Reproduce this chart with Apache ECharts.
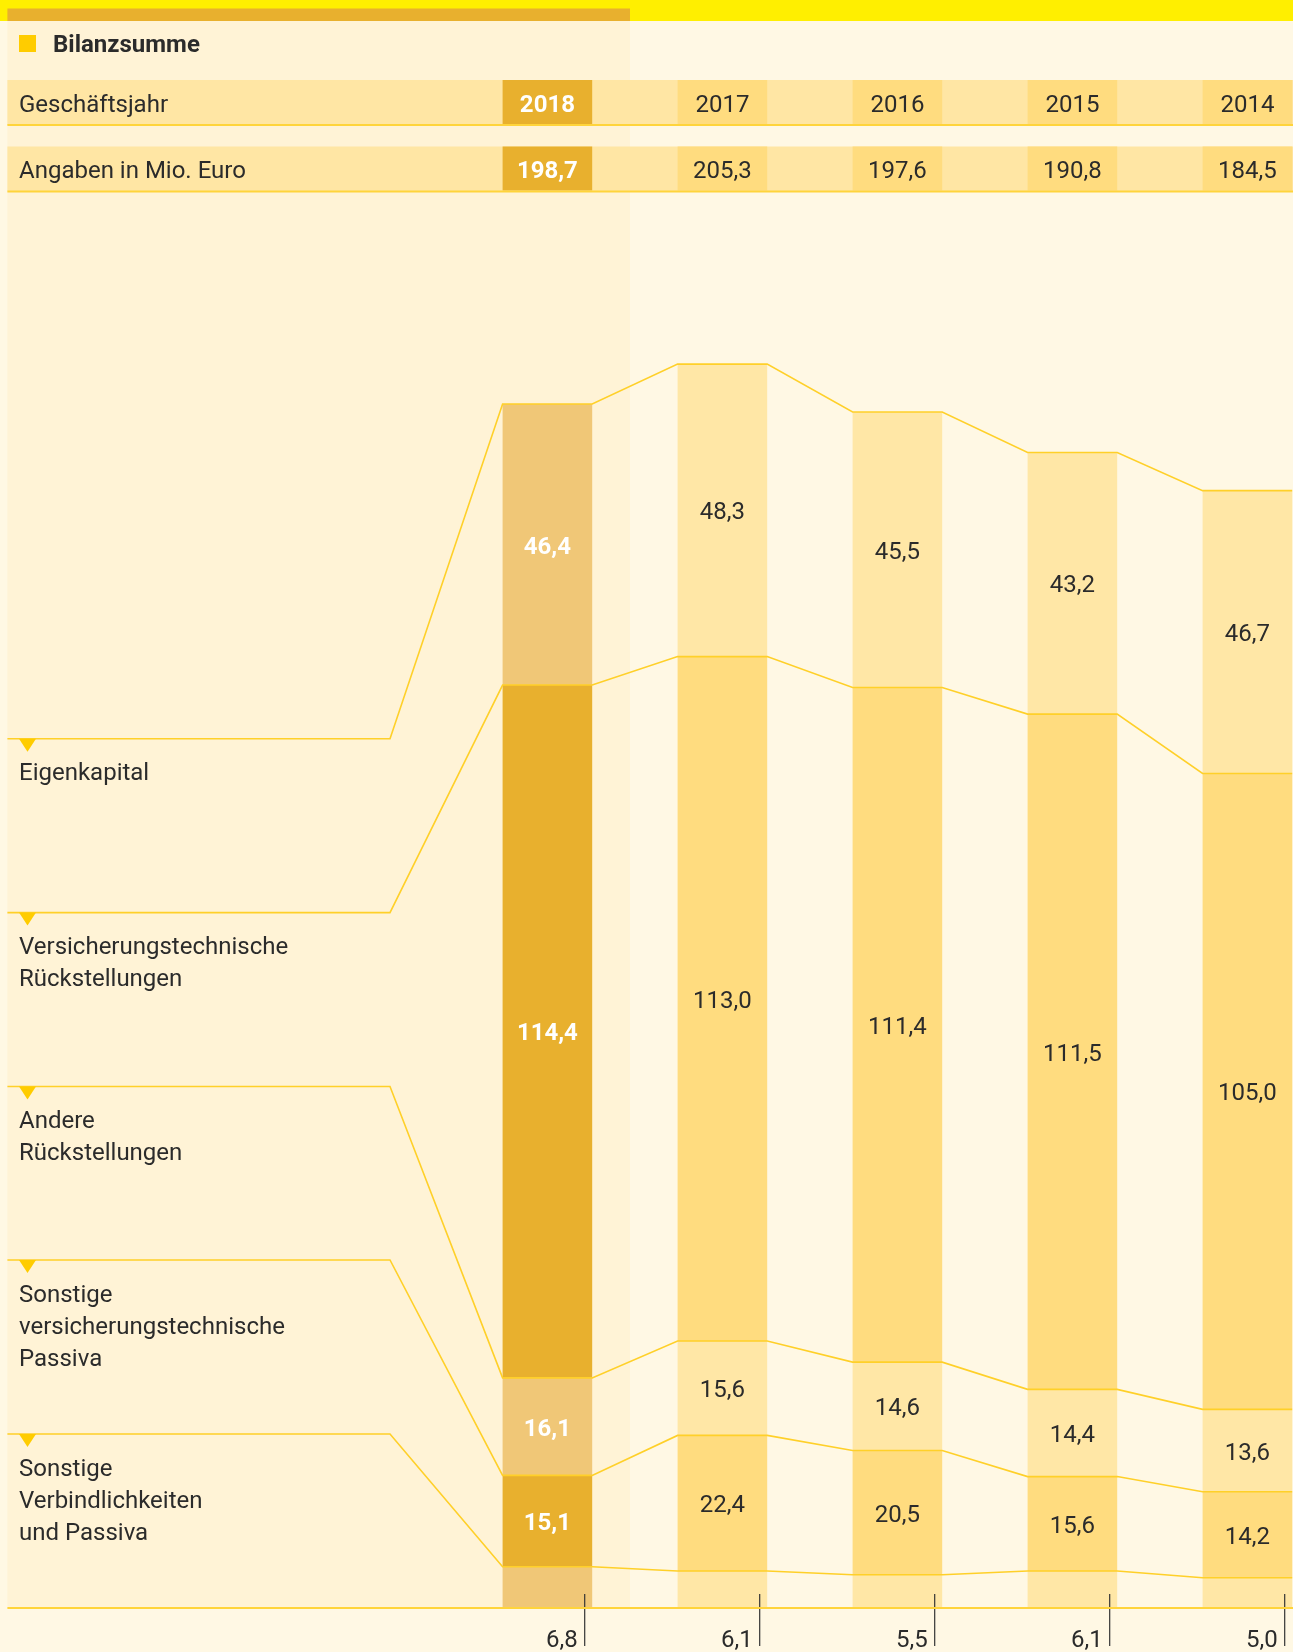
<!DOCTYPE html>
<html>
<head>
<meta charset="utf-8">
<title>Bilanzsumme</title>
<script src="https://cdn.jsdelivr.net/npm/echarts@6/dist/echarts.min.js"></script>
<style>
html, body { margin: 0; padding: 0; background: #FFF8E4; }
#chart { width: 1293px; height: 1652px; }
</style>
</head>
<body>
<div id="chart"></div>
<script>
var years = ['2018', '2017', '2016', '2015', '2014'];
var totals = [198.7, 205.3, 197.6, 190.8, 184.5];

// Schichten von unten nach oben (Angaben in Mio. Euro)
var sonstigeVerbindlichkeiten = [6.8, 6.1, 5.5, 6.1, 5.0];
var sonstigeVersPassiva = [15.1, 22.4, 20.5, 15.6, 14.2];
var andereRueckstellungen = [16.1, 15.6, 14.6, 14.4, 13.6];
var versRueckstellungen = [114.4, 113.0, 111.4, 111.5, 105.0];
var eigenkapital = [46.4, 48.3, 45.5, 43.2, 46.7];

var layers = [sonstigeVerbindlichkeiten, sonstigeVersPassiva, andereRueckstellungen, versRueckstellungen, eigenkapital];
var layerNames = [
  'Sonstige\nVerbindlichkeiten\nund Passiva',
  'Sonstige\nversicherungstechnische\nPassiva',
  'Andere\nRückstellungen',
  'Versicherungstechnische\nRückstellungen',
  'Eigenkapital'
];

var FONT = 'Roboto, "Open Sans", sans-serif';
var FS = 24;
var DARK = '#2B2B2B';
var LINE = '#FFD029';
var BAR_RATIO = 0.512;
var BASE_Y = 1608;
// y der Beschriftungslinie je Schicht (unterste zuerst)
var labelLineY = [1434, 1260, 1086.5, 912.6, 738.7];

function fmt(v) { return v.toFixed(1).replace('.', ','); }

// kumulierte Unter-/Obergrenzen
var segData = [];
var tops = [];
for (var k = 0; k < layers.length; k++) tops.push([]);
for (var i = 0; i < years.length; i++) {
  var acc = 0;
  for (var k = 0; k < layers.length; k++) {
    var v = layers[k][i];
    segData.push([i, acc, acc + v, k, v]);
    acc += v;
    tops[k].push(acc);
  }
}

function colorFor(i, k) {
  if (i === 0) return k % 2 ? '#E8B02E' : '#F0C777';
  return k % 2 ? '#FFDC7F' : '#FFE7A6';
}

function renderSegment(params, api) {
  var i = api.value(0), s = api.value(1), e = api.value(2), k = api.value(3), v = api.value(4);
  var p0 = api.coord([i, s]);
  var p1 = api.coord([i, e]);
  var w = api.size([1, 0])[0] * BAR_RATIO;
  var children = [{
    type: 'rect',
    shape: { x: p0[0] - w / 2, y: p1[1], width: w, height: p0[1] - p1[1] },
    style: { fill: colorFor(i, k) }
  }];
  if (k === 0) {
    var tx = p0[0] + w / 2 - 7.5;
    children.push({
      type: 'line',
      shape: { x1: tx, y1: BASE_Y - 14, x2: tx, y2: BASE_Y + 38 },
      style: { stroke: '#333', lineWidth: 1.2 }
    });
    children.push({
      type: 'text', x: tx - 7, y: BASE_Y + 33,
      style: { text: fmt(v), fill: DARK, fontSize: FS, fontFamily: FONT, align: 'right', verticalAlign: 'middle' }
    });
  } else {
    children.push({
      type: 'text', x: p0[0], y: (p0[1] + p1[1]) / 2 + 3,
      style: {
        text: fmt(v), fill: i === 0 ? '#fff' : DARK, fontSize: FS, fontFamily: FONT,
        fontWeight: i === 0 ? 'bold' : 'normal', align: 'center', verticalAlign: 'middle'
      }
    });
  }
  return { type: 'group', children: children };
}

function renderConnector(params, api) {
  var k = params.dataIndex;
  var w = api.size([1, 0])[0] * BAR_RATIO;
  var pts = [[7.4, labelLineY[k]], [390, labelLineY[k]]];
  for (var i = 0; i < years.length; i++) {
    var p = api.coord([i, tops[k][i]]);
    pts.push([p[0] - w / 2, p[1]]);
    pts.push([p[0] + w / 2, p[1]]);
  }
  return {
    type: 'polyline',
    shape: { points: pts },
    style: { stroke: LINE, lineWidth: 1.6, fill: null }
  };
}

function renderHeader(params, api) {
  var i = params.dataIndex;
  var p = api.coord([i, 0]);
  var w = api.size([1, 0])[0] * BAR_RATIO;
  var fill = i === 0 ? '#E8B02E' : '#FFDC7F';
  var txt = i === 0 ? '#fff' : DARK;
  var fw = i === 0 ? 'bold' : 'normal';
  return {
    type: 'group',
    children: [
      { type: 'rect', shape: { x: p[0] - w / 2, y: 80, width: w, height: 44 }, style: { fill: fill } },
      { type: 'rect', shape: { x: p[0] - w / 2, y: 146.5, width: w, height: 44 }, style: { fill: fill } },
      { type: 'text', x: p[0], y: 105.5, style: { text: years[i], fill: txt, fontSize: FS, fontWeight: fw, fontFamily: FONT, align: 'center', verticalAlign: 'middle' } },
      { type: 'text', x: p[0], y: 172, style: { text: fmt(totals[i]), fill: txt, fontSize: FS, fontWeight: fw, fontFamily: FONT, align: 'center', verticalAlign: 'middle' } }
    ]
  };
}

var graphics = [
  { type: 'rect', shape: { x: 7.4, y: 8, width: 622.6, height: 1600 }, style: { fill: '#FFF3D6' }, z: -10 },
  { type: 'rect', shape: { x: 0, y: 0, width: 1293, height: 21 }, style: { fill: '#FFEF00' }, z: -9 },
  { type: 'rect', shape: { x: 7.4, y: 8.4, width: 622.6, height: 12.6 }, style: { fill: '#E8B02E' }, z: -8 },
  { type: 'rect', shape: { x: 19, y: 35, width: 17, height: 17 }, style: { fill: '#FFCC00' } },
  { type: 'text', x: 53, y: 46, style: { text: 'Bilanzsumme', fill: DARK, fontSize: FS, fontWeight: 'bold', fontFamily: FONT, verticalAlign: 'middle' } },
  { type: 'rect', shape: { x: 7.4, y: 80, width: 1286, height: 45 }, style: { fill: '#FFE6A4' }, z: -5 },
  { type: 'rect', shape: { x: 7.4, y: 146.5, width: 1286, height: 45 }, style: { fill: '#FFE6A4' }, z: -5 },
  { type: 'line', shape: { x1: 7.4, y1: 125, x2: 1293, y2: 125 }, style: { stroke: '#FFD43B', lineWidth: 2 }, z: 20 },
  { type: 'line', shape: { x1: 7.4, y1: 191.5, x2: 1293, y2: 191.5 }, style: { stroke: '#FFD43B', lineWidth: 2 }, z: 20 },
  { type: 'text', x: 19, y: 105.5, style: { text: 'Geschäftsjahr', fill: DARK, fontSize: FS, fontFamily: FONT, verticalAlign: 'middle' }, z: 20 },
  { type: 'text', x: 19, y: 172, style: { text: 'Angaben in Mio. Euro', fill: DARK, fontSize: FS, fontFamily: FONT, verticalAlign: 'middle' }, z: 20 },
  { type: 'line', shape: { x1: 7.4, y1: BASE_Y, x2: 1293, y2: BASE_Y }, style: { stroke: '#FFD43B', lineWidth: 2 }, z: 20 }
];
for (var k = 0; k < layerNames.length; k++) {
  var ly = labelLineY[k];
  graphics.push({ type: 'polygon', shape: { points: [[19, ly], [36, ly], [27.5, ly + 13]] }, style: { fill: '#FFCC00' }, z: 20 });
  graphics.push({
    type: 'text', x: 19, y: ly + 19.5,
    style: { text: layerNames[k], fill: DARK, fontSize: FS, lineHeight: 32, fontFamily: FONT, verticalAlign: 'top' }, z: 20
  });
}

var chart = echarts.init(document.getElementById('chart'), null, { renderer: 'canvas' });
chart.setOption({
  backgroundColor: '#FFF8E4',
  animation: false,
  grid: { left: 0, right: 0, top: 94, bottom: 44 },
  xAxis: { type: 'value', min: -3.128, max: 4.2606, show: false },
  yAxis: { type: 'value', min: 0, max: 250, show: false },
  graphic: graphics,
  series: [
    {
      type: 'custom', name: 'Segmente', renderItem: renderSegment,
      encode: { x: 0, y: [1, 2] }, data: segData, z: 2
    },
    {
      type: 'custom', name: 'Verbindungen', renderItem: renderConnector,
      data: layerNames.map(function (n, k) { return [0, tops[k][0]]; }), z: 3
    },
    {
      type: 'custom', name: 'Kopf', renderItem: renderHeader,
      data: years.map(function (y, i) { return [i, 0]; }), z: 3
    }
  ]
});
</script>
</body>
</html>
